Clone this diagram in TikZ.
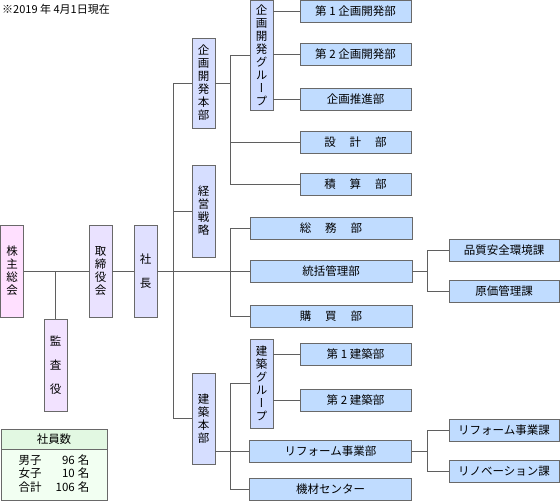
\documentclass[tikz,border=0pt]{standalone}
\usepackage{fontspec}
\setmainfont{Noto Sans CJK JP}
\newfontfamily\tatefont[RawFeature=+vert]{Noto Sans CJK JP}
\usetikzlibrary{calc}

\definecolor{linegray}{RGB}{95,95,95}
\definecolor{boxgray}{RGB}{105,105,105}
\definecolor{kabupink}{RGB}{255,224,255}
\definecolor{kansapurple}{RGB}{242,226,255}
\definecolor{torilav}{RGB}{234,226,255}
\definecolor{shacholav}{RGB}{224,224,255}
\definecolor{honbublue}{RGB}{214,222,255}
\definecolor{groupblue}{RGB}{204,218,255}
\definecolor{bublue}{RGB}{192,220,255}
\definecolor{headgreen}{RGB}{226,248,226}
\definecolor{bodygreen}{RGB}{242,255,242}

\begin{document}
\begin{tikzpicture}
[x=1pt,y=-1pt,
  tatebox/.style={shape=rectangle,draw=boxgray,minimum width=23pt,inner sep=0pt,align=center,
    font=\tatefont\fontsize{11.5}{13}\selectfont},%
  yokobox/.style={shape=rectangle,draw=boxgray,fill=bublue,minimum height=22pt,inner sep=0pt,
    font=\fontsize{11.5}{13}\selectfont},%
  lineDecorate/.style={-,draw=linegray,line width=0.8pt}]
\useasboundingbox (0,0) rectangle (560,502);
\node (asof) at (2,9) [anchor=west,inner sep=0pt,font=\fontsize{11}{13}\selectfont] {※2019 年 4月1日現在};
%% vertical boxes
\foreach \nodename/\x/\y/\h/\col/\txt in {
  kabu/12/271/92/kabupink/{株\\主\\総\\会},
  kansa/55.5/365/92/kansapurple/{監\\[11pt]査\\[11pt]役},
  tori/100.5/271/92/torilav/{取\\締\\役\\会},
  shacho/145.5/271/92/shacholav/{社\\[11pt]長},
  kikakuhonbu/203.5/83/90/honbublue/{企\\画\\開\\発\\本\\部},
  senryaku/203.5/211/92/honbublue/{経\\営\\戦\\略},
  kenchikuhonbu/203.5/418.5/91/honbublue/{建\\築\\本\\部},
  kikakuG/261.5/55.5/110/groupblue/{企\\画\\開\\発\\グ\\ル\\ー\\プ},
  kenchikuG/261.5/383.5/89/groupblue/{建\\築\\グ\\ル\\ー\\プ}}
{
  \node (\nodename) at (\x,\y) [tatebox,minimum height=\h pt,fill=\col] {\txt};
}
%% horizontal boxes
\foreach \nodename/\x/\y/\w/\txt in {
  daiichikikaku/355.5/11/111/{第 1 企画開発部},
  dainikikaku/355.5/54/111/{第 2 企画開発部},
  suishin/355.5/99/111/{企画推進部},
  sekkei/355.5/142/111/{設\hspace{14pt}計\hspace{14pt}部},
  sekisan/355.5/184/111/{積\hspace{14pt}算\hspace{14pt}部},
  soumu/331/228/162/{総\hspace{14pt}務\hspace{14pt}部},
  tokatsu/331/271/162/{統括管理部},
  kobai/331/316/162/{購\hspace{14pt}買\hspace{14pt}部},
  hinshitsu/504/250.5/110/{品質安全環境課},
  genka/504/291/110/{原価管理課},
  daiichikenchiku/355.5/354.5/111/{第 1 建築部},
  dainikenchiku/355.5/400.5/111/{第 2 建築部},
  reform/330.5/451/162/{リフォーム事業部},
  kizai/330.5/489/162/{機材センター},
  reformka/504/430.5/110/{リフォーム事業課},
  renov/504/471/110/{リノベーション課}}
{
  \node (\nodename) at (\x,\y) [yokobox,minimum width=\w pt] {\txt};
}
%% staff table
\node (shainsu) at (54,439) [shape=rectangle,draw=boxgray,fill=headgreen,minimum width=106pt,
  minimum height=20pt,inner sep=0pt,font=\fontsize{11.5}{13}\selectfont] {社員数};
\node (shainbody) at (shainsu.south) [anchor=north,shape=rectangle,draw=boxgray,fill=bodygreen,
  minimum width=106pt,minimum height=51pt,inner sep=0pt,font=\fontsize{11.5}{13}\selectfont]
  {\begin{tabular}{@{}l@{\hspace{14pt}}r@{\hspace{3pt}}l@{}}
   男子 & 96 & 名\\ 女子 & 10 & 名\\ 合計 & 106 & 名
   \end{tabular}};
%% branch points
\coordinate (trunk) at (173,0);
\coordinate (midline) at (230,0);
\coordinate (rightline) at (427,0);
%% edges or lines
\path
\foreach \startnode/\endnode in {kabu/tori, tori/shacho, shacho/tokatsu}
{
  (\startnode.east) edge[lineDecorate] (\endnode.west)
};
\draw[lineDecorate] (kansa.north) -- (kansa.north |- kabu.east);
\draw[lineDecorate] (kikakuhonbu.west) -- (kikakuhonbu.west -| trunk)
  -- (kenchikuhonbu.west -| trunk) -- (kenchikuhonbu.west);
\draw[lineDecorate] (senryaku.west) -- (senryaku.west -| trunk);
%% planning division
\draw[lineDecorate] (kikakuhonbu.east) -- (kikakuhonbu.east -| midline);
\draw[lineDecorate] (kikakuG.west) -- (kikakuG.west -| midline)
  -- (sekisan.west -| midline) -- (sekisan.west);
\draw[lineDecorate] (sekkei.west) -- (sekkei.west -| midline);
\foreach \endnode in {daiichikikaku, dainikikaku, suishin}
  \draw[lineDecorate] (kikakuG.east |- \endnode.west) -- (\endnode.west);
%% head office
\draw[lineDecorate] (soumu.west) -- (soumu.west -| midline) -- (kobai.west -| midline) -- (kobai.west);
\draw[lineDecorate] (tokatsu.east) -- (tokatsu.east -| rightline);
\draw[lineDecorate] (hinshitsu.west) -- (hinshitsu.west -| rightline) -- (genka.west -| rightline) -- (genka.west);
%% construction division
\draw[lineDecorate] (kenchikuhonbu.east |- reform.west) -- (reform.west);
\draw[lineDecorate] (kenchikuG.west) -- (kenchikuG.west -| midline) -- (kizai.west -| midline) -- (kizai.west);
\foreach \endnode in {daiichikenchiku, dainikenchiku}
  \draw[lineDecorate] (kenchikuG.east |- \endnode.west) -- (\endnode.west);
\draw[lineDecorate] (reform.east) -- (reform.east -| rightline);
\draw[lineDecorate] (reformka.west) -- (reformka.west -| rightline) -- (renov.west -| rightline) -- (renov.west);
\end{tikzpicture}
\end{document}
